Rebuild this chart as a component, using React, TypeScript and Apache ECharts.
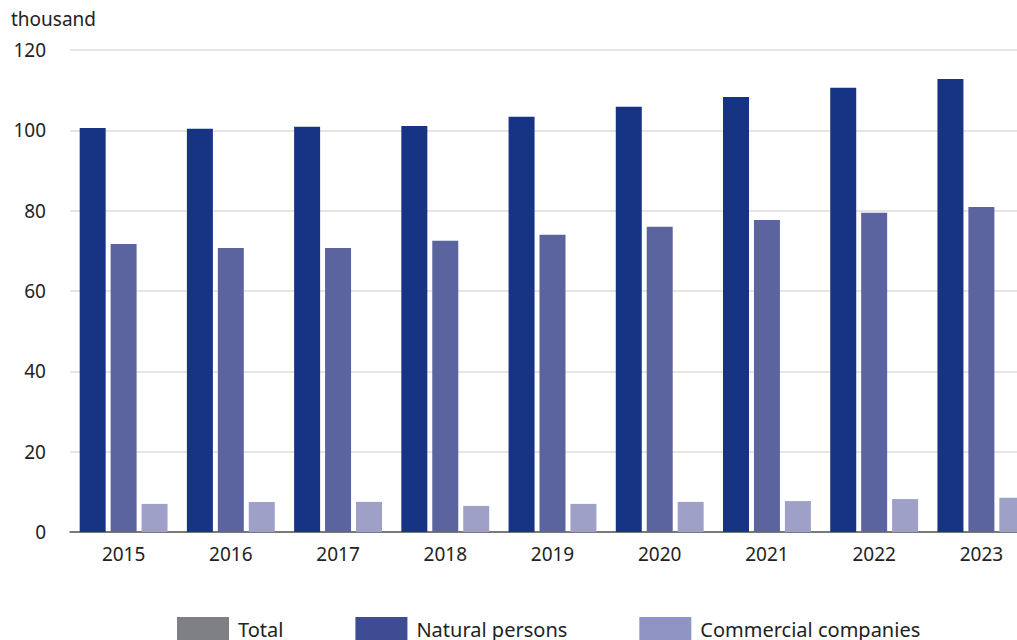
import React, { useEffect, useRef } from "react";
import * as echarts from "echarts";

const years = ["2015", "2016", "2017", "2018", "2019", "2020", "2021", "2022", "2023"];
const totalValues = [100.6, 100.4, 100.9, 101.1, 103.4, 105.9, 108.3, 110.6, 112.8];
const naturalValues = [71.7, 70.7, 70.7, 72.5, 74.0, 76.0, 77.7, 79.5, 80.9];
const commercialValues = [7.0, 7.5, 7.5, 6.5, 7.0, 7.5, 7.7, 8.2, 8.5];
const seriesNames = ["Total", "Natural persons", "Commercial companies"];
const yTicks = [0, 20, 40, 60, 80, 100, 120];

const FONT = "'Noto Sans', sans-serif";

export default function App() {
  const ref = useRef<HTMLDivElement>(null);
  useEffect(() => {
    if (!ref.current) return;
    const chart = echarts.init(ref.current, undefined, { renderer: "svg" });
    const barColors = ["#163483", "#5c64a0", "#9ea0c8"];
    const legendColors = ["#7f8084", "#3e4c94", "#9094c4"];
    const datasets = [totalValues, naturalValues, commercialValues];
    chart.setOption({
      animation: false,
      textStyle: { fontFamily: FONT },
      grid: { left: 70, top: 50, width: 965, height: 482 },
      graphic: [
        {
          type: "text",
          left: 11,
          top: 9,
          style: { text: "thousand", fontSize: 19, fill: "#222", fontFamily: FONT },
        },
      ],
      legend: {
        left: 177,
        top: 617,
        padding: 0,
        icon: "rect",
        itemWidth: 52,
        itemHeight: 24,
        itemGap: 72,
        textStyle: { fontSize: 20, color: "#222", fontFamily: FONT, padding: [0, 0, 0, 4] },
        data: seriesNames.map((n, i) => ({ name: n, itemStyle: { color: legendColors[i] } })),
      },
      xAxis: {
        type: "category",
        data: years,
        axisLine: { lineStyle: { color: "#555", width: 1.5 } },
        axisTick: { length: 7, lineStyle: { color: "#555" } },
        axisLabel: { fontSize: 19, color: "#222", margin: 12, fontFamily: FONT },
      },
      yAxis: {
        type: "value",
        min: yTicks[0],
        max: yTicks[yTicks.length - 1],
        interval: 20,
        axisLine: { show: false },
        axisTick: { show: false },
        axisLabel: { fontSize: 19, color: "#222", margin: 24, fontFamily: FONT },
        splitLine: { lineStyle: { color: "#dcdcdc", width: 1.5 } },
      },
      series: datasets.map((d, i) => ({
        name: seriesNames[i],
        type: "bar",
        data: d,
        barWidth: 26,
        barGap: "19%",
        itemStyle: { color: barColors[i] },
      })),
    });
    return () => chart.dispose();
  }, []);
  return (
    <div
      style={{
        position: "absolute",
        left: 0,
        top: 0,
        width: 1017,
        height: 640,
        overflow: "hidden",
        background: "#fff",
      }}
    >
      <div ref={ref} style={{ width: 1045, height: 640 }} />
    </div>
  );
}
